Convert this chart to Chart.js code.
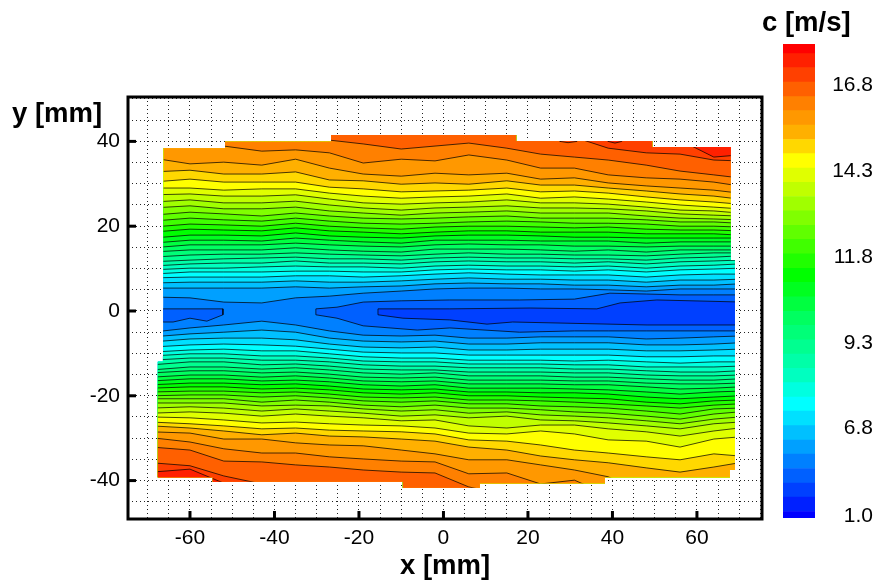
<!DOCTYPE html>
<html lang="en">
<head>
<meta charset="UTF-8">
<title>c [m/s] contour</title>
<script src="https://cdn.jsdelivr.net/npm/chart.js"></script>
<style>
    body { margin: 0; background: #fff; }
    canvas { position: absolute; left: 0; top: 0; }
</style>
</head>
<body>
<canvas id="field" width="877" height="582"></canvas>
<canvas id="colorbar" width="877" height="582"></canvas>
<script>
// contour stations along x [mm]
const xStations = [-69,-60,-52,-43,-35,-27,-19,-10,-2,6,15,23,31,39,48,56,64,70];
const xTickValues = [-60,-40,-20,0,20,40,60];
const yTickValues = [-40,-20,0,20,40];

// y [mm] of each contour above the centre, level 4 (inner) to level 31 (outer)
const upperContours = [
  [3.3,3.1,2.1,1.9,3.1,3.5,4.2,4.7,5.2,5.4,5.4,5.2,5.2,5.0,4.7,5.2,5.2,5.2],
  [5.4,5.4,5.4,5.4,5.7,5.4,5.7,5.9,6.4,6.6,6.4,6.4,6.1,6.1,5.7,6.1,6.1,6.4],
  [6.6,6.8,6.8,6.8,7.1,6.8,6.8,7.1,7.5,7.8,7.5,7.5,7.3,7.3,6.8,7.3,7.3,7.5],
  [7.8,8.0,8.0,8.0,8.3,8.3,8.0,8.3,8.7,9.0,8.7,8.5,8.5,8.5,8.0,8.5,8.7,8.7],
  [8.7,9.2,9.2,9.2,9.4,9.4,9.2,9.2,9.7,9.9,9.7,9.7,9.4,9.7,9.2,9.7,9.9,10.1],
  [9.7,10.1,10.1,10.4,10.6,10.4,10.4,10.1,10.6,10.8,10.6,10.6,10.4,10.6,10.1,10.6,10.8,11.1],
  [10.6,11.1,11.3,11.3,11.8,11.3,11.3,11.1,11.6,11.8,11.6,11.6,11.3,11.6,11.1,11.6,11.8,12.0],
  [11.6,12.0,12.3,12.5,12.7,12.3,12.3,12.0,12.5,12.7,12.5,12.5,12.3,12.3,12.0,12.5,12.7,13.0],
  [12.7,13.2,13.4,13.4,13.7,13.4,13.2,13.0,13.4,13.7,13.4,13.4,13.2,13.2,13.0,13.4,13.7,13.7],
  [13.9,14.4,14.4,14.4,14.9,14.4,14.1,13.9,14.6,14.6,14.6,14.4,14.1,14.4,13.9,14.4,14.4,14.4],
  [14.9,15.6,15.6,15.6,16.0,15.6,15.3,15.1,15.6,15.8,15.6,15.6,15.3,15.3,15.1,15.3,15.3,15.3],
  [16.0,16.7,16.7,16.5,17.2,16.7,16.3,16.0,16.7,16.7,16.7,16.5,16.5,16.5,16.0,16.3,16.3,16.3],
  [17.2,17.9,17.9,17.7,18.4,17.7,17.4,17.2,17.7,17.9,17.9,17.7,17.4,17.4,17.2,17.2,17.2,17.2],
  [18.6,19.3,19.1,18.9,19.6,18.9,18.6,18.2,18.6,18.9,18.9,18.6,18.6,18.6,18.2,18.2,18.2,17.9],
  [19.8,20.5,20.3,20.0,20.7,20.0,19.6,19.3,19.8,20.0,20.0,19.8,19.6,19.8,19.3,19.1,19.1,18.9],
  [21.2,21.9,21.5,21.2,21.9,21.2,20.7,20.5,20.7,21.0,21.2,21.0,20.7,20.7,20.5,20.0,20.0,19.8],
  [22.6,23.3,22.9,22.4,23.1,22.4,21.9,21.7,21.9,22.2,22.4,21.9,21.9,21.9,21.5,21.0,21.0,20.7],
  [24.3,24.8,24.1,24.1,24.5,23.6,23.1,22.6,23.1,23.3,23.6,23.1,23.1,23.1,22.4,21.9,21.7,21.5],
  [25.7,26.2,25.5,25.5,25.9,25.0,24.3,23.8,24.3,24.5,24.8,24.3,24.3,24.1,23.6,22.9,22.6,22.4],
  [27.4,27.6,27.1,27.1,27.4,26.4,25.5,25.2,25.5,25.7,26.2,25.5,25.5,25.2,24.5,23.8,23.6,23.1],
  [29.0,29.0,28.5,28.8,28.8,27.8,27.1,26.6,26.9,27.1,27.6,26.6,26.9,26.4,25.7,25.0,24.5,24.1],
  [30.4,31.1,30.4,30.4,30.4,29.2,28.8,28.1,28.3,28.5,29.0,28.1,28.3,27.8,26.9,26.2,25.7,25.2],
  [32.8,33.2,32.3,32.3,32.8,30.9,30.7,29.9,30.2,29.9,30.7,29.7,29.7,29.0,28.3,27.6,27.1,26.4],
  [36.1,34.7,35.1,34.4,35.8,33.7,32.3,31.8,32.5,32.1,32.5,31.1,31.4,30.2,29.5,29.0,28.5,27.8],
  [43.9,41.5,38.9,37.7,38.0,37.3,34.9,35.8,35.4,36.8,35.6,33.7,33.7,32.1,31.4,31.1,30.4,29.5],
  [45,45,45,45,43.2,40.3,39.4,38.2,38.9,39.6,38.4,37.0,36.3,35.6,34.4,33.0,32.1,31.4],
  [45,45,45,45,45,45,45,45,45,45,45,45,41.0,38.4,37.3,37.0,35.6,35.4],
  [45,45,45,45,45,45,45,45,45,45,45,45,45,45,41.5,40.3,36.3,36.8]
];

// y [mm] of each contour below the centre, level 4 (inner) to level 31 (outer)
const lowerContours = [
  [-5.0,-4.0,-3.3,-2.4,-3.3,-4.7,-5.7,-5.9,-5.7,-6.4,-6.4,-6.1,-6.1,-6.1,-6.6,-6.4,-6.1,-5.9],
  [-6.1,-5.4,-5.0,-4.5,-5.0,-6.4,-7.1,-7.3,-7.1,-7.8,-7.8,-7.5,-7.5,-7.5,-8.0,-8.0,-7.8,-7.5],
  [-7.3,-6.6,-6.4,-6.4,-6.8,-7.8,-8.5,-8.7,-8.5,-9.2,-9.2,-9.0,-9.0,-9.0,-9.4,-9.4,-9.2,-9.0],
  [-8.5,-8.0,-7.8,-8.0,-8.3,-9.0,-9.7,-9.9,-9.9,-10.4,-10.4,-10.4,-10.4,-10.4,-10.8,-10.8,-10.6,-10.6],
  [-9.7,-9.2,-9.0,-9.4,-9.4,-10.1,-10.8,-11.1,-11.1,-11.6,-11.6,-11.6,-11.8,-11.6,-12.0,-12.3,-12.0,-12.0],
  [-10.6,-10.1,-10.1,-10.6,-10.6,-11.1,-11.8,-12.0,-12.0,-12.5,-12.5,-12.5,-12.7,-12.7,-13.2,-13.2,-13.2,-13.0],
  [-11.6,-11.1,-11.1,-11.6,-11.6,-12.0,-12.7,-13.0,-13.0,-13.4,-13.4,-13.4,-13.7,-13.7,-14.1,-14.4,-14.4,-14.1],
  [-12.7,-12.0,-12.0,-12.7,-12.5,-13.0,-13.7,-13.9,-13.9,-14.4,-14.4,-14.4,-14.6,-14.6,-15.1,-15.3,-15.3,-15.1],
  [-13.9,-13.2,-13.2,-13.7,-13.4,-13.9,-14.6,-14.9,-14.6,-15.3,-15.3,-15.3,-15.6,-15.6,-16.0,-16.3,-16.3,-16.0],
  [-14.6,-14.1,-14.1,-14.6,-14.4,-14.9,-15.6,-15.8,-15.6,-16.3,-16.3,-16.3,-16.5,-16.5,-17.0,-17.2,-17.2,-17.0],
  [-15.6,-15.1,-15.1,-15.6,-15.3,-15.8,-16.5,-16.7,-16.5,-17.2,-17.2,-17.2,-17.4,-17.4,-17.9,-18.4,-18.2,-17.9],
  [-16.5,-16.0,-16.0,-16.5,-16.3,-16.7,-17.4,-17.7,-17.4,-18.2,-18.2,-18.2,-18.4,-18.6,-19.1,-19.6,-19.1,-18.9],
  [-17.4,-17.0,-17.0,-17.4,-17.2,-17.7,-18.4,-18.6,-18.4,-19.1,-19.1,-19.3,-19.3,-19.6,-20.3,-20.7,-20.3,-20.0],
  [-18.2,-17.9,-17.9,-18.4,-18.2,-18.6,-19.3,-19.6,-19.3,-20.0,-20.0,-20.3,-20.5,-20.7,-21.5,-21.9,-21.2,-21.0],
  [-19.1,-18.9,-18.9,-19.3,-19.1,-19.6,-20.3,-20.5,-20.3,-21.0,-21.0,-21.2,-21.5,-21.9,-22.4,-22.9,-22.2,-21.9],
  [-20.0,-19.8,-19.8,-20.3,-20.0,-20.5,-21.2,-21.5,-21.2,-21.9,-21.9,-22.4,-22.6,-22.9,-23.6,-24.3,-23.1,-22.9],
  [-20.7,-20.7,-20.7,-21.5,-21.0,-21.5,-22.2,-22.6,-22.2,-22.9,-22.9,-23.3,-23.8,-24.1,-24.8,-25.5,-24.3,-23.8],
  [-21.7,-21.7,-21.7,-22.4,-22.2,-22.4,-23.1,-23.6,-23.3,-24.1,-23.8,-24.5,-24.8,-25.2,-25.9,-26.6,-25.5,-25.0],
  [-22.9,-22.6,-22.9,-23.6,-23.1,-23.6,-24.1,-24.8,-24.5,-25.2,-24.8,-25.7,-25.9,-26.4,-27.1,-27.8,-26.6,-26.2],
  [-24.1,-23.8,-24.1,-24.8,-24.3,-24.8,-25.2,-25.9,-25.7,-27.1,-27.6,-26.9,-26.9,-27.8,-28.5,-29.5,-28.3,-27.6],
  [-25.0,-25.2,-25.7,-26.4,-26.2,-26.6,-26.9,-27.1,-27.6,-28.8,-29.0,-28.3,-29.0,-30.4,-30.7,-32.1,-30.2,-29.7],
  [-26.2,-26.6,-27.1,-27.8,-27.6,-28.1,-28.3,-28.5,-29.0,-30.4,-30.7,-31.6,-32.8,-33.5,-34.4,-35.1,-33.7,-34.2],
  [-27.1,-27.6,-28.3,-29.2,-28.8,-29.5,-29.7,-30.2,-30.7,-32.1,-32.8,-34.2,-35.1,-35.8,-37.0,-38.0,-36.8,-35.8],
  [-28.5,-28.8,-30.2,-30.2,-31.1,-31.6,-31.8,-32.8,-33.7,-35.1,-35.1,-36.3,-37.5,-39.1,-43.4,-43.4,-43.4,-43.4],
  [-29.9,-30.9,-32.5,-33.5,-33.5,-34.4,-34.9,-35.4,-35.6,-38.4,-38.2,-40.8,-39.9,-43.4,-43.4,-43.4,-43.4,-43.4],
  [-32.1,-32.8,-35.4,-35.6,-36.3,-36.8,-37.5,-38.0,-38.2,-41.5,-43.4,-43.4,-43.4,-43.4,-43.4,-43.4,-43.4,-43.4],
  [-35.8,-36.5,-38.9,-40.8,-43.4,-43.4,-43.4,-43.4,-43.4,-43.4,-43.4,-43.4,-43.4,-43.4,-43.4,-43.4,-43.4,-43.4],
  [-38.0,-37.3,-40.6,-43.4,-43.4,-43.4,-43.4,-43.4,-43.4,-43.4,-43.4,-43.4,-43.4,-43.4,-43.4,-43.4,-43.4,-43.4]
];
const firstLevel = 4;

// closed regions: the two level 3 patches and the level 2 core, plus the small lobes at the top edge
const leftPatchX = [-69,-52.2,-52.2,-56,-60,-64,-69,-69];
const leftPatchY = [0.5,0.5,-0.9,-2.4,-1.7,-2.6,-2.6,0.5];
const wedgeX = [-30.2,-25.2,-19,-10,1.5,18,31,39.4,48,56,64,71,71,64,56,48,39,31,18,1.5,-6.2,-19,-25.2,-30.2,-30.2];
const wedgeY = [0.5,0.9,2.1,2.4,2.6,2.6,2.8,4.2,4.0,3.8,3.8,3.8,-4.7,-4.7,-4.7,-4.7,-4.7,-4.7,-5,-4,-4.5,-3.5,-1.7,-0.9,0.5];
const coreX = [-15.5,1.5,20.5,36.3,41.8,50.5,71,71,48.2,16.4,10.3,1.5,-9.6,-15.5,-15.5];
const coreY = [0.5,0.5,0.7,0.5,1.9,2.6,2.1,-3.3,-3.3,-2.6,-3.1,-2.1,-1.7,-0.9,0.5];
const lobeAX = [27.6,27.6,29.5,31.6,31.6,27.6];
const lobeAY = [41.5,40,39.7,40,41.5,41.5];
const lobeBX = [39,39,40.6,42.2,42.2,39];
const lobeBY = [41.5,40,39.6,40,41.5,41.5];

// edge of the measured field
const outlineX = [-66.2,-51.7,-51.7,-26.6,-26.6,17.2,17.2,49.4,49.4,68,68,69,69,67.8,67.8,38.2,38.2,8.6,8.6,-9.6,-9.6,-54.6,-54.6,-67.6,-67.6,-66.4];
const outlineY = [38.4,38.4,39.9,39.9,41.5,41.5,40.1,40.1,38.7,38.7,12,12,-37.5,-37.5,-39.2,-39.2,-40.6,-40.6,-41.7,-41.7,-40.3,-40.3,-39.2,-39.2,-12,-12];

// colour legend, bottom to top
const bandEdges = [4.2,4.39,4.81,5.22,5.64,6.06,6.47,6.89,7.31,7.72,8.14,8.56,8.97,9.39,9.81,10.22,10.64,11.06,11.47,11.89,12.31,12.72,13.14,13.56,13.97,14.39,14.81,15.22,15.64,16.06,16.47,16.89,17.31,17.72,18.0];
const bandColors = [
  '#0000ff','#0020ff','#0040ff','#0060ff','#0080ff','#00a0ff','#00c0ff','#00e0ff','#00ffff',
  '#00ffe0','#00ffc0','#00ffa8','#00ff90','#00ff78','#00ff60','#00ff40','#00ff20','#00ff00',
  '#20ff00','#40ff00','#60ff00','#80ff00','#a0ff00','#c0ff00','#e0ff00','#ffff00','#ffd800',
  '#ffb000','#ff9800','#ff8000','#ff6000','#ff4000','#ff2000','#ff0000'
];
const colorTickValues = [4.25,6.8,9.3,11.8,14.3,16.8];
const colorTickLabels = ['1.0','6.8','9.3','11.8','14.3','16.8'];

const lineColor = 'rgba(0,0,0,0.72)';
const yMin = -49.06;
const points = (xs, ys) => xs.map((x, i) => ({x: x, y: ys[i]}));

function contourSet(x, y, color, fill) {
    return {data: points(x, y), showLine: true, fill: fill, backgroundColor: color, borderColor: lineColor, borderWidth: 1, pointRadius: 0, tension: 0};
}

// painted from the centre outwards, each band covers everything beyond its contour
const paintOrder = [];
paintOrder.push(contourSet([xStations[0], xStations[17]], [yMin, yMin], bandColors[4], 'end'));
paintOrder[0].borderWidth = 0;
upperContours.forEach((row, i) => paintOrder.push(contourSet(xStations, row, bandColors[firstLevel + i + 1], 'end')));
lowerContours.forEach((row, i) => paintOrder.push(contourSet(xStations, row, bandColors[firstLevel + i + 1], 'start')));
paintOrder.push(contourSet(leftPatchX, leftPatchY, bandColors[3], 'shape'));
paintOrder.push(contourSet(wedgeX, wedgeY, bandColors[3], 'shape'));
paintOrder.push(contourSet(coreX, coreY, bandColors[2], 'shape'));
paintOrder.push(contourSet(lobeAX, lobeAY, bandColors[31], 'shape'));
paintOrder.push(contourSet(lobeBX, lobeBY, bandColors[32], 'shape'));

const clipToOutline = {
    id: 'clipToOutline',
    beforeDatasetsDraw(chart) {
        const {ctx, scales} = chart;
        ctx.save();
        ctx.beginPath();
        outlineX.forEach((x, i) => ctx.lineTo(scales.x.getPixelForValue(x), scales.y.getPixelForValue(outlineY[i])));
        ctx.closePath();
        ctx.clip();
    },
    afterDatasetsDraw(chart) {
        chart.ctx.restore();
    }
};

const frameAndTitles = {
    id: 'frameAndTitles',
    afterDraw(chart) {
        const {ctx, chartArea: a, scales} = chart;
        ctx.save();
        ctx.strokeStyle = '#000';
        ctx.lineWidth = 3;
        ctx.strokeRect(a.left, a.top, a.right - a.left, a.bottom - a.top);
        xTickValues.forEach(v => {
            const px = scales.x.getPixelForValue(v);
            ctx.beginPath();
            ctx.moveTo(px, a.bottom);
            ctx.lineTo(px, a.bottom - 8);
            ctx.stroke();
        });
        yTickValues.forEach(v => {
            const py = scales.y.getPixelForValue(v);
            ctx.beginPath();
            ctx.moveTo(a.left, py);
            ctx.lineTo(a.left + 8, py);
            ctx.stroke();
        });
        ctx.fillStyle = '#000';
        ctx.font = 'bold 27.5px "Liberation Sans"';
        ctx.textBaseline = 'alphabetic';
        ctx.textAlign = 'left';
        ctx.fillText('y [mm]', 12, 122);
        ctx.fillText('x [mm]', 400, 574);
        ctx.fillText('c [m/s]', 762, 31);
        ctx.restore();
    }
};

new Chart(document.getElementById('field'), {
    type: 'scatter',
    data: {datasets: paintOrder.slice().reverse()},
    plugins: [clipToOutline, frameAndTitles],
    options: {
        responsive: false,
        animation: false,
        events: [],
        layout: {padding: {left: 0, top: 97, right: 115, bottom: 0}},
        plugins: {legend: {display: false}, tooltip: {enabled: false}},
        scales: {
            x: {
                type: 'linear', min: -74.67, max: 75.4,
                afterFit(scale) { scale.height = 63; },
                grid: {color: '#222', lineWidth: 1, drawTicks: false},
                border: {display: false, dash: [1, 3]},
                ticks: {
                    stepSize: 5, includeBounds: false, autoSkip: false, maxRotation: 0, padding: 7,
                    color: '#000', font: {family: '"Liberation Sans"', size: 21},
                    callback: v => xTickValues.includes(v) ? String(v) : ''
                }
            },
            y: {
                type: 'linear', min: yMin, max: 50.47,
                afterFit(scale) { scale.width = 128; },
                grid: {color: '#222', lineWidth: 1, drawTicks: false},
                border: {display: false, dash: [1, 3]},
                ticks: {
                    stepSize: 5, includeBounds: false, autoSkip: false, padding: 8,
                    color: '#000', font: {family: '"Liberation Sans"', size: 21},
                    callback: v => yTickValues.includes(v) ? String(v) : ''
                }
            }
        }
    }
});

new Chart(document.getElementById('colorbar'), {
    type: 'bar',
    data: {
        labels: ['c'],
        datasets: bandColors.map((color, i) => ({
            data: [[bandEdges[i], bandEdges[i + 1]]],
            backgroundColor: color,
            categoryPercentage: 1,
            barPercentage: 1
        }))
    },
    options: {
        responsive: false,
        animation: false,
        events: [],
        layout: {padding: {left: 783, top: 44, right: 4, bottom: 64}},
        plugins: {legend: {display: false}, tooltip: {enabled: false}},
        scales: {
            x: {stacked: true, display: false},
            y: {
                type: 'linear', position: 'right', min: 4.2, max: 18,
                afterFit(scale) { scale.width = 58; },
                afterBuildTicks(scale) { scale.ticks = colorTickValues.map(v => ({value: v})); },
                grid: {display: false},
                border: {display: false},
                ticks: {
                    crossAlign: 'far', padding: 0, autoSkip: false,
                    color: '#000', font: {family: '"Liberation Sans"', size: 21},
                    callback: v => colorTickLabels[colorTickValues.indexOf(v)]
                }
            }
        }
    }
});
</script>
</body>
</html>
